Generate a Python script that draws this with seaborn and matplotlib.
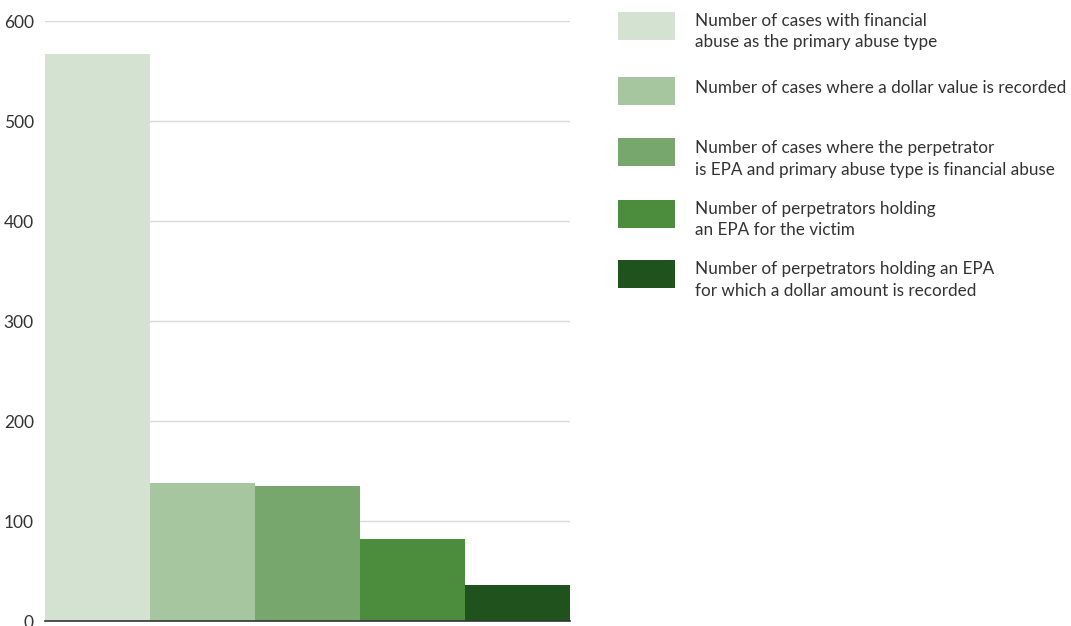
import matplotlib
matplotlib.use("Agg")
import matplotlib.pyplot as plt
import seaborn as sns
import pandas as pd
from matplotlib.patches import Rectangle

categories = [
    "Number of cases with financial\nabuse as the primary abuse type",
    "Number of cases where a dollar value is recorded",
    "Number of cases where the perpetrator\nis EPA and primary abuse type is financial abuse",
    "Number of perpetrators holding\nan EPA for the victim",
    "Number of perpetrators holding an EPA\nfor which a dollar amount is recorded",
]
values = [567, 138, 135, 82, 36]
colors = ["#d4e3d1", "#a6c69f", "#78a76e", "#4b8c3d", "#1f521c"]
yticks = [0, 100, 200, 300, 400, 500, 600]

sns.set_theme(style="white")
plt.rcParams["font.family"] = ["Lato", "DejaVu Sans"]

W, H = 1071, 626
fig = plt.figure(figsize=(W / 100, H / 100), dpi=100)
ax = fig.add_axes([45 / W, (H - 621) / H, 525 / W, 600 / H])

df = pd.DataFrame({"cat": categories, "val": values})
sns.barplot(data=df, x="cat", y="val", hue="cat", palette=colors,
            width=1.0, legend=False, ax=ax, saturation=1, linewidth=0)

ax.set_xlim(-0.5, 4.5)
ax.set_ylim(0, 600)
ax.set_yticks(yticks)
ax.set_yticklabels([str(v) for v in yticks], fontsize=12.5, color="#333333")
ax.set_xticks([])
ax.set_xlabel("")
ax.set_ylabel("")
ax.tick_params(axis="y", length=0, pad=8)
ax.yaxis.grid(True, color="#d9d9d9", linewidth=1)
ax.set_axisbelow(True)
for s in ["left", "right", "top"]:
    ax.spines[s].set_visible(False)
ax.spines["bottom"].set_color("#333333")
ax.spines["bottom"].set_linewidth(1.2)

# legend
centers = [26, 91, 152, 214, 274]
baselines = [26, 93, 153, 214, 274]
for cat, col, cy, bl in zip(categories, colors, centers, baselines):
    fig.patches.append(Rectangle((618 / W, 1 - (cy + 14) / H), 57 / W, 28 / H,
                                 transform=fig.transFigure, facecolor=col,
                                 edgecolor="none"))
    for i, line in enumerate(cat.split("\n")):
        fig.text(695 / W, 1 - (bl + 21.5 * i) / H, line, fontsize=12.3,
                 color="#333333", va="baseline", ha="left")

fig.savefig("out.png", dpi=100)
